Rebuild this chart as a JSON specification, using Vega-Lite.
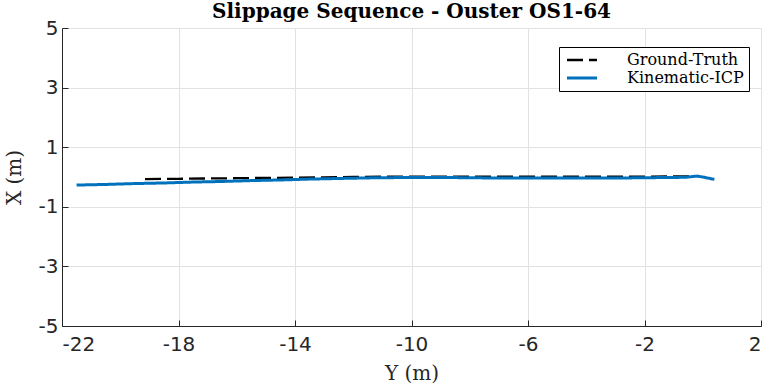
{
  "$schema": "https://vega.github.io/schema/vega-lite/v6.json",
  "width": 699,
  "height": 298,
  "autosize": {"type": "none"},
  "padding": {"left": 62, "top": 28, "right": 7, "bottom": 63},
  "background": "white",
  "title": {
    "text": "Slippage Sequence - Ouster OS1-64",
    "font": "DejaVu Serif",
    "fontSize": 20,
    "fontWeight": "bold",
    "color": "black",
    "offset": -4,
    "anchor": "middle"
  },
  "data": {
    "values": [
      {"series": "Ground-Truth", "Y": -19.15, "X": -0.07},
      {"series": "Ground-Truth", "Y": -18.0, "X": -0.06},
      {"series": "Ground-Truth", "Y": -17.0, "X": -0.05},
      {"series": "Ground-Truth", "Y": -16.0, "X": -0.04},
      {"series": "Ground-Truth", "Y": -15.0, "X": -0.03},
      {"series": "Ground-Truth", "Y": -14.0, "X": -0.02},
      {"series": "Ground-Truth", "Y": -13.0, "X": -0.01},
      {"series": "Ground-Truth", "Y": -12.0, "X": 0.0},
      {"series": "Ground-Truth", "Y": -11.0, "X": 0.01},
      {"series": "Ground-Truth", "Y": -10.0, "X": 0.01},
      {"series": "Ground-Truth", "Y": -9.0, "X": 0.01},
      {"series": "Ground-Truth", "Y": -8.0, "X": 0.01},
      {"series": "Ground-Truth", "Y": -7.0, "X": 0.01},
      {"series": "Ground-Truth", "Y": -6.0, "X": 0.01},
      {"series": "Ground-Truth", "Y": -5.0, "X": 0.01},
      {"series": "Ground-Truth", "Y": -4.0, "X": 0.01},
      {"series": "Ground-Truth", "Y": -3.0, "X": 0.01},
      {"series": "Ground-Truth", "Y": -2.0, "X": 0.01},
      {"series": "Ground-Truth", "Y": -1.0, "X": 0.02},
      {"series": "Ground-Truth", "Y": -0.3, "X": 0.02},
      {"series": "Kinematic-ICP", "Y": -21.5, "X": -0.27},
      {"series": "Kinematic-ICP", "Y": -20.5, "X": -0.25},
      {"series": "Kinematic-ICP", "Y": -19.5, "X": -0.22},
      {"series": "Kinematic-ICP", "Y": -18.5, "X": -0.2},
      {"series": "Kinematic-ICP", "Y": -17.5, "X": -0.17},
      {"series": "Kinematic-ICP", "Y": -16.5, "X": -0.15},
      {"series": "Kinematic-ICP", "Y": -15.5, "X": -0.12},
      {"series": "Kinematic-ICP", "Y": -14.5, "X": -0.1},
      {"series": "Kinematic-ICP", "Y": -13.5, "X": -0.07},
      {"series": "Kinematic-ICP", "Y": -12.5, "X": -0.05},
      {"series": "Kinematic-ICP", "Y": -11.5, "X": -0.03},
      {"series": "Kinematic-ICP", "Y": -10.5, "X": -0.02},
      {"series": "Kinematic-ICP", "Y": -9.5, "X": -0.02},
      {"series": "Kinematic-ICP", "Y": -8.5, "X": -0.02},
      {"series": "Kinematic-ICP", "Y": -7.5, "X": -0.03},
      {"series": "Kinematic-ICP", "Y": -6.5, "X": -0.03},
      {"series": "Kinematic-ICP", "Y": -5.5, "X": -0.03},
      {"series": "Kinematic-ICP", "Y": -4.5, "X": -0.03},
      {"series": "Kinematic-ICP", "Y": -3.5, "X": -0.03},
      {"series": "Kinematic-ICP", "Y": -2.5, "X": -0.03},
      {"series": "Kinematic-ICP", "Y": -1.5, "X": -0.02},
      {"series": "Kinematic-ICP", "Y": -0.6, "X": -0.01},
      {"series": "Kinematic-ICP", "Y": -0.2, "X": 0.03},
      {"series": "Kinematic-ICP", "Y": 0.0, "X": 0.0},
      {"series": "Kinematic-ICP", "Y": 0.4, "X": -0.08}
    ]
  },
  "mark": {"type": "line", "clip": true},
  "encoding": {
    "x": {
      "field": "Y",
      "type": "quantitative",
      "scale": {"domain": [-22, 2], "nice": false, "zero": false},
      "axis": {
        "title": "Y (m)",
        "values": [-22, -18, -14, -10, -6, -2, 2],
        "labelExpr": "'' + datum.value"
      }
    },
    "y": {
      "field": "X",
      "type": "quantitative",
      "scale": {"domain": [-5, 5], "nice": false, "zero": false},
      "axis": {
        "title": "X (m)",
        "values": [-5, -3, -1, 1, 3, 5],
        "labelExpr": "'' + datum.value"
      }
    },
    "color": {
      "field": "series",
      "type": "nominal",
      "scale": {"domain": ["Ground-Truth", "Kinematic-ICP"], "range": ["black", "#0072BD"]},
      "legend": {"title": null}
    },
    "strokeDash": {
      "field": "series",
      "type": "nominal",
      "scale": {"domain": ["Ground-Truth", "Kinematic-ICP"], "range": [[16, 6], [1, 0]]},
      "legend": {"title": null}
    },
    "strokeWidth": {
      "field": "series",
      "type": "nominal",
      "scale": {"domain": ["Ground-Truth", "Kinematic-ICP"], "range": [2.3, 3]},
      "legend": null
    },
    "order": {"field": "Y", "type": "quantitative"}
  },
  "config": {
    "view": {"stroke": null},
    "axis": {
      "grid": true,
      "gridColor": "#e2e2e2",
      "gridWidth": 1,
      "domainColor": "#262626",
      "domainWidth": 1,
      "tickColor": "#262626",
      "tickSize": -6,
      "labelFont": "DejaVu Sans",
      "labelFontSize": 20,
      "labelColor": "#262626",
      "titleFont": "DejaVu Serif",
      "titleFontSize": 20,
      "titleFontWeight": "normal",
      "titleColor": "#262626"
    },
    "axisX": {"labelPadding": 14, "titlePadding": 9},
    "axisY": {"labelPadding": 10, "titlePadding": 14},
    "legend": {
      "orient": "none",
      "legendX": 497,
      "legendY": 19,
      "strokeColor": "black",
      "fillColor": "white",
      "padding": 5,
      "symbolType": "M-1,0H5",
      "symbolSize": 100,
      "symbolStrokeWidth": 3,
      "symbolFillColor": "transparent",
      "labelFont": "DejaVu Serif",
      "labelFontSize": 16,
      "labelColor": "black",
      "labelOffset": 47,
      "rowPadding": 2,
      "cornerRadius": 0
    }
  }
}
